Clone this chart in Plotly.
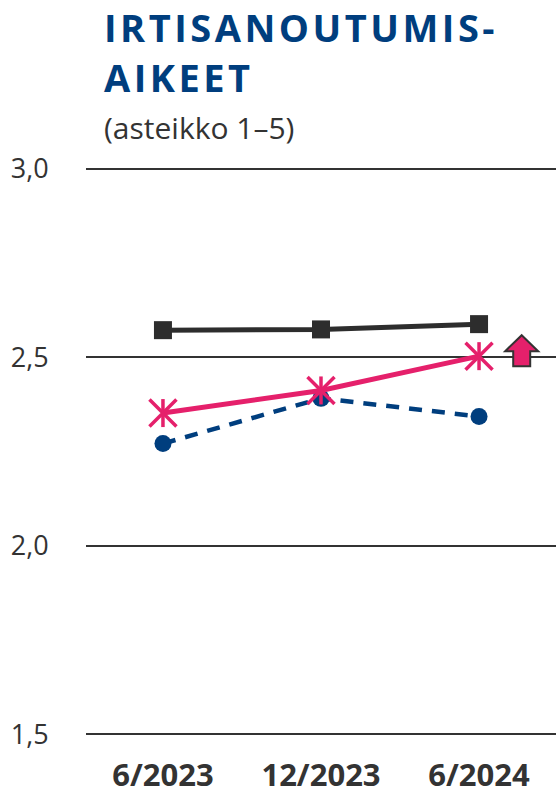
import plotly.graph_objects as go

# Survey periods and index values (scale 1-5)
periods = ["6/2023", "12/2023", "6/2024"]
series_black = [2.572, 2.574, 2.588]
series_pink = [2.352, 2.412, 2.503]
series_blue = [2.271, 2.391, 2.343]
y_ticks = [1.5, 2.0, 2.5, 3.0]

BLACK = "#2d2d2d"
PINK = "#e5206b"
BLUE = "#003e7e"
TEXT = "#333333"
FONT = "Open Sans"

xpos = list(range(len(periods)))

fig = go.Figure()

fig.add_trace(go.Scatter(
    x=xpos, y=series_blue, mode="lines+markers",
    line=dict(color=BLUE, width=4.5, dash="13px,10px"),
    marker=dict(symbol="circle", size=17, color=BLUE),
    hoverinfo="skip", showlegend=False,
))
fig.add_trace(go.Scatter(
    x=xpos, y=series_black, mode="lines+markers",
    line=dict(color=BLACK, width=5),
    marker=dict(symbol="square", size=18, color=BLACK),
    hoverinfo="skip", showlegend=False,
))
fig.add_trace(go.Scatter(
    x=xpos, y=series_pink, mode="lines+markers",
    line=dict(color=PINK, width=5),
    marker=dict(symbol="x-thin-open", size=27, color=PINK,
                line=dict(color=PINK, width=3.5)),
    hoverinfo="skip", showlegend=False,
))
fig.add_trace(go.Scatter(
    x=xpos, y=series_pink, mode="markers",
    marker=dict(symbol="line-ns-open", size=20, color=PINK,
                line=dict(color=PINK, width=3.5)),
    hoverinfo="skip", showlegend=False,
))

# Upward arrow next to the latest value
fig.add_shape(
    type="path", xref="x", yref="y",
    xsizemode="pixel", ysizemode="pixel",
    xanchor=2.27, yanchor=series_pink[-1],
    path="M0,21 L16.5,5 L8.5,5 L8.5,-10 L-8.5,-10 L-8.5,5 L-16.5,5 Z",
    fillcolor=PINK, line=dict(color=TEXT, width=2),
)

fig.add_annotation(
    xref="paper", yref="paper", x=0.034, y=1.246,
    xanchor="left", yanchor="middle", showarrow=False,
    text='<span style="letter-spacing:3.5px"><b>IRTISANOUTUMIS-</b></span>',
    font=dict(family=FONT, size=38, color=BLUE),
)
fig.add_annotation(
    xref="paper", yref="paper", x=0.034, y=1.158,
    xanchor="left", yanchor="middle", showarrow=False,
    text='<span style="letter-spacing:3.5px"><b>AIKEET</b></span>',
    font=dict(family=FONT, size=38, color=BLUE),
)
fig.add_annotation(
    xref="paper", yref="paper", x=0.034, y=1.070,
    xanchor="left", yanchor="middle", showarrow=False,
    text="(asteikko 1–5)",
    font=dict(family=FONT, size=30, color=TEXT),
)

fig.update_layout(
    width=556, height=794,
    margin=dict(l=86, r=0, t=167, b=58),
    paper_bgcolor="white", plot_bgcolor="white",
    separators=",.",
    font=dict(family=FONT, color=TEXT),
)
fig.update_xaxes(
    range=[-0.487, 2.487], tickvals=xpos, ticktext=periods,
    showgrid=False, zeroline=False, showline=False, automargin=False,
    ticks="outside", ticklen=12, tickcolor="rgba(0,0,0,0)",
    tickfont=dict(family=FONT, size=31, color=TEXT, weight="bold"),
)
fig.update_yaxes(
    range=[1.495, 3.005], tickvals=y_ticks, tickformat=".1f",
    showgrid=True, gridcolor=TEXT, gridwidth=2,
    zeroline=False, showline=False, automargin=False,
    ticks="outside", ticklen=31, tickcolor="rgba(0,0,0,0)",
    tickfont=dict(family=FONT, size=27, color=TEXT),
)

fig.write_html("out.html")
